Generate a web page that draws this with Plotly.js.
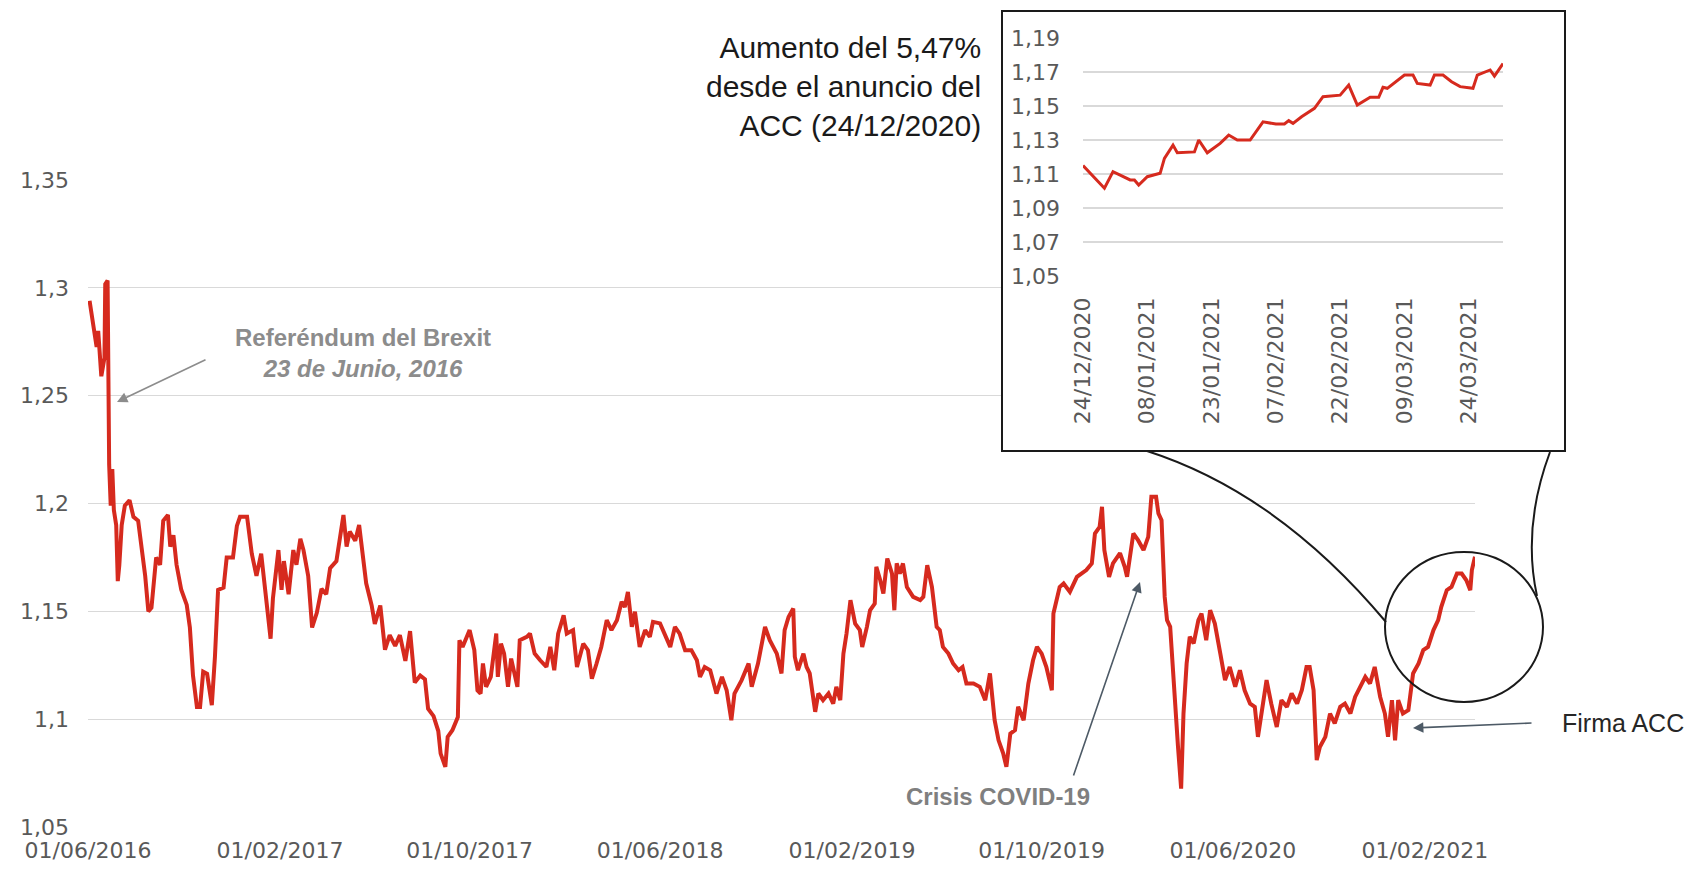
<!DOCTYPE html>
<html>
<head>
<meta charset="utf-8">
<script src="https://cdn.plot.ly/plotly-3.0.1.min.js"></script>
<style>html,body{margin:0;padding:0;background:#fff;}#chart{width:1686px;height:870px;}</style>
</head>
<body>
<div id="chart"></div>
<script>
// Main series: GBP/EUR, 01/06/2016 - 06/04/2021
const mainDates = [
"2016-06-03","2016-06-07","2016-06-12","2016-06-14","2016-06-18","2016-06-22","2016-06-23","2016-06-26","2016-06-27","2016-06-28",
"2016-06-30","2016-07-02","2016-07-04","2016-07-07","2016-07-09","2016-07-11","2016-07-14","2016-07-18","2016-07-24","2016-07-29",
"2016-08-04","2016-08-08","2016-08-13","2016-08-17","2016-08-21","2016-08-27","2016-09-01","2016-09-05","2016-09-11","2016-09-14",
"2016-09-18","2016-09-22","2016-09-28","2016-10-05","2016-10-09","2016-10-13","2016-10-18","2016-10-22","2016-10-26","2016-10-31",
"2016-11-06","2016-11-10","2016-11-14","2016-11-21","2016-11-25","2016-12-03","2016-12-08","2016-12-12","2016-12-21","2016-12-27",
"2017-01-02","2017-01-08","2017-01-15","2017-01-20","2017-01-23","2017-01-30","2017-02-03","2017-02-06","2017-02-12","2017-02-18",
"2017-02-22","2017-02-27","2017-03-03","2017-03-09","2017-03-14","2017-03-20","2017-03-26","2017-04-01","2017-04-06","2017-04-14",
"2017-04-23","2017-04-27","2017-05-01","2017-05-08","2017-05-13","2017-05-18","2017-05-22","2017-05-29","2017-06-02","2017-06-09",
"2017-06-15","2017-06-21","2017-06-28","2017-07-04","2017-07-11","2017-07-17","2017-07-23","2017-07-30","2017-08-05","2017-08-09",
"2017-08-16","2017-08-22","2017-08-25","2017-08-31","2017-09-03","2017-09-09","2017-09-16","2017-09-18","2017-09-22","2017-10-01",
"2017-10-07","2017-10-11","2017-10-15","2017-10-18","2017-10-22","2017-10-28","2017-11-04","2017-11-06","2017-11-10","2017-11-14",
"2017-11-19","2017-11-23","2017-12-01","2017-12-04","2017-12-13","2017-12-17","2017-12-23","2017-12-30","2018-01-07","2018-01-12",
"2018-01-17","2018-01-22","2018-01-29","2018-02-02","2018-02-10","2018-02-15","2018-02-23","2018-03-01","2018-03-06","2018-03-12",
"2018-03-18","2018-03-25","2018-03-31","2018-04-07","2018-04-13","2018-04-17","2018-04-21","2018-04-26","2018-04-30","2018-05-06",
"2018-05-13","2018-05-19","2018-05-23","2018-06-01","2018-06-05","2018-06-14","2018-06-20","2018-06-26","2018-07-03","2018-07-11",
"2018-07-18","2018-07-22","2018-07-28","2018-08-04","2018-08-12","2018-08-19","2018-08-25","2018-08-31","2018-09-04","2018-09-13",
"2018-09-22","2018-09-26","2018-10-04","2018-10-13","2018-10-19","2018-10-28","2018-11-03","2018-11-07","2018-11-12","2018-11-18",
"2018-11-20","2018-11-24","2018-12-01","2018-12-05","2018-12-09","2018-12-13","2018-12-16","2018-12-20","2018-12-26","2019-01-02",
"2019-01-08","2019-01-12","2019-01-17","2019-01-21","2019-01-25","2019-01-30","2019-02-05","2019-02-11","2019-02-14","2019-02-20",
"2019-02-24","2019-03-02","2019-03-04","2019-03-09","2019-03-13","2019-03-18","2019-03-24","2019-03-27","2019-03-30","2019-04-03",
"2019-04-07","2019-04-12","2019-04-20","2019-04-29","2019-05-03","2019-05-08","2019-05-14","2019-05-20","2019-05-24","2019-05-28",
"2019-06-04","2019-06-10","2019-06-17","2019-06-22","2019-06-27","2019-07-06","2019-07-14","2019-07-21","2019-07-27","2019-08-02",
"2019-08-07","2019-08-13","2019-08-17","2019-08-22","2019-08-28","2019-09-01","2019-09-08","2019-09-14","2019-09-20","2019-09-25",
"2019-10-01","2019-10-07","2019-10-14","2019-10-16","2019-10-20","2019-10-24","2019-10-29","2019-11-06","2019-11-15","2019-11-21",
"2019-11-27","2019-12-04","2019-12-08","2019-12-14","2019-12-17","2019-12-20","2019-12-26","2019-12-31","2020-01-09","2020-01-15",
"2020-01-18","2020-01-26","2020-02-01","2020-02-08","2020-02-14","2020-02-18","2020-02-24","2020-02-27","2020-03-02","2020-03-06",
"2020-03-09","2020-03-13","2020-03-17","2020-03-21","2020-03-23","2020-03-27","2020-03-30","2020-04-03","2020-04-07","2020-04-12",
"2020-04-18","2020-04-22","2020-04-28","2020-05-03","2020-05-09","2020-05-16","2020-05-22","2020-05-28","2020-06-04","2020-06-10",
"2020-06-16","2020-06-23","2020-06-29","2020-07-03","2020-07-08","2020-07-14","2020-07-20","2020-07-27","2020-08-02","2020-08-09",
"2020-08-15","2020-08-22","2020-08-28","2020-09-03","2020-09-07","2020-09-12","2020-09-16","2020-09-20","2020-09-27","2020-10-03",
"2020-10-09","2020-10-16","2020-10-22","2020-10-29","2020-11-04","2020-11-10","2020-11-17","2020-11-23","2020-11-29","2020-12-06",
"2020-12-12","2020-12-16","2020-12-21","2020-12-25","2020-12-29","2021-01-04","2021-01-11","2021-01-17","2021-01-24","2021-01-30",
"2021-02-05","2021-02-12","2021-02-18","2021-02-22","2021-03-01","2021-03-07","2021-03-14","2021-03-20","2021-03-26","2021-03-31",
"2021-04-02","2021-04-06"
];
const mainValues = [
1.294,1.283,1.2726,1.280,1.259,1.2675,1.3017,1.3034,1.2487,1.218,
1.199,1.216,1.197,1.190,1.164,1.1716,1.190,1.199,1.2015,1.1938,
1.192,1.180,1.1664,1.150,1.1517,1.175,1.1716,1.192,1.1947,1.180,
1.1853,1.1716,1.160,1.153,1.1425,1.1202,1.1056,1.1056,1.122,1.121,
1.1065,1.129,1.160,1.161,1.175,1.175,1.1896,1.1938,1.1938,1.1767,
1.1664,1.1767,1.151,1.1373,1.156,1.1784,1.160,1.1733,1.1579,1.1784,
1.1716,1.1836,1.1784,1.1664,1.1425,1.1493,1.1604,1.1579,1.170,1.1733,
1.1947,1.180,1.187,1.1827,1.190,1.175,1.163,1.1527,1.1442,1.1527,
1.1322,1.139,1.134,1.139,1.127,1.1408,1.117,1.1202,1.1185,1.1048,
1.1014,1.0945,1.084,1.0779,1.0918,1.0949,1.101,1.1366,1.1335,1.1413,
1.132,1.1134,1.1119,1.1258,1.115,1.1196,1.1397,1.1196,1.135,1.1304,
1.115,1.1281,1.115,1.1366,1.1382,1.1397,1.1304,1.1273,1.1242,1.1335,
1.1227,1.1397,1.1482,1.1397,1.1413,1.1242,1.135,1.132,1.1188,1.1258,
1.1335,1.1459,1.1413,1.1459,1.1544,1.152,1.159,1.1428,1.1498,1.1335,
1.1413,1.1382,1.1451,1.1444,1.1413,1.1335,1.1428,1.1397,1.132,1.132,
1.1273,1.1196,1.1242,1.1227,1.1119,1.1196,1.1134,1.0995,1.1119,1.118,
1.1258,1.115,1.1258,1.1428,1.1366,1.1304,1.1212,1.1413,1.1474,1.1513,
1.1289,1.1227,1.1304,1.1242,1.1212,1.1119,1.1034,1.1119,1.1088,1.1119,
1.1072,1.115,1.1088,1.1304,1.1397,1.1552,1.1443,1.1413,1.1335,1.1428,
1.1505,1.1536,1.1706,1.1644,1.1583,1.1745,1.1675,1.1505,1.1722,1.1675,
1.1722,1.1613,1.1567,1.1552,1.1567,1.1714,1.1613,1.1428,1.1413,1.1335,
1.1304,1.1258,1.1227,1.1242,1.1165,1.1165,1.115,1.1088,1.1212,1.0995,
1.0902,1.084,1.0779,1.0933,1.0949,1.1057,1.0995,1.1165,1.1273,1.1335,
1.1304,1.1242,1.1134,1.149,1.1552,1.1613,1.1629,1.159,1.166,1.1675,
1.1691,1.1722,1.1861,1.1892,1.1985,1.1784,1.166,1.1722,1.177,1.1706,
1.166,1.1861,1.183,1.1784,1.1845,1.2031,1.2031,1.1954,1.1923,1.1567,
1.1459,1.1428,1.1181,1.0933,1.0871,1.0678,1.1026,1.1258,1.1382,1.1351,
1.1459,1.149,1.1366,1.1505,1.1443,1.1304,1.1181,1.1242,1.115,1.1227,
1.1134,1.1072,1.1057,1.0918,1.1026,1.1181,1.1072,1.0964,1.1088,1.1057,
1.1119,1.1072,1.1134,1.1242,1.1242,1.1134,1.081,1.0871,1.0918,1.1026,
1.098,1.1057,1.1072,1.1026,1.1103,1.115,1.1196,1.1165,1.1242,1.1103,
1.1026,1.0918,1.1088,1.0902,1.1088,1.1026,1.1042,1.1212,1.1258,1.132,
1.1335,1.1413,1.1459,1.1521,1.1598,1.1613,1.1675,1.1675,1.1644,1.1598,
1.1691,1.1753
];

// Inset series: since the ACC announcement (24/12/2020)
const insetDates = [
"2020-12-24","2020-12-29","2020-12-31","2021-01-04","2021-01-05","2021-01-06","2021-01-08","2021-01-11","2021-01-12","2021-01-14",
"2021-01-15","2021-01-19","2021-01-20","2021-01-22","2021-01-25","2021-01-27","2021-01-29","2021-02-01","2021-02-04","2021-02-07",
"2021-02-09","2021-02-10","2021-02-11","2021-02-13","2021-02-16","2021-02-18","2021-02-22","2021-02-24","2021-02-26","2021-03-01",
"2021-03-03","2021-03-04","2021-03-05","2021-03-09","2021-03-11","2021-03-12","2021-03-15","2021-03-16","2021-03-18","2021-03-20",
"2021-03-22","2021-03-25","2021-03-26","2021-03-29","2021-03-30","2021-03-31","2021-04-01"
];
const insetValues = [
1.115,1.1016,1.1114,1.1065,1.1065,1.1035,1.1084,1.1104,1.1192,1.127,
1.1225,1.123,1.130,1.1225,1.128,1.1329,1.130,1.130,1.1407,1.1394,
1.1394,1.1414,1.1398,1.1437,1.1486,1.1555,1.1564,1.1623,1.1506,1.1551,
1.1551,1.161,1.1604,1.1682,1.1682,1.1633,1.1623,1.1682,1.1682,1.1643,
1.1614,1.1604,1.1682,1.1712,1.1676,1.1712,1.175
];

const RED = '#d62a1e';
const GRID = '#d9d9d9';
const TICKCOL = '#595959';
const tickFont = {family: 'DejaVu Sans', size: 22, color: TICKCOL};

// pixel -> paper helpers (figure 1686 x 870, zero margins)
const W = 1686, H = 870;
const px = x => x / W;
const py = y => (H - y) / H;

const traces = [
  {type: 'scatter', mode: 'lines', x: mainDates, y: mainValues, xaxis: 'x', yaxis: 'y',
   line: {color: RED, width: 4}, hoverinfo: 'x+y'},
  {type: 'scatter', mode: 'lines', x: [], y: [], xaxis: 'x2', yaxis: 'y2', hoverinfo: 'skip'},
  {type: 'scatter', mode: 'lines', x: insetDates, y: insetValues, xaxis: 'x3', yaxis: 'y3',
   line: {color: RED, width: 3}, hoverinfo: 'x+y'}
];

const boxAxis = {showgrid: false, zeroline: false, showticklabels: false, ticks: '',
  showline: true, mirror: true, linecolor: '#1a1a1a', linewidth: 2, range: [0, 1], fixedrange: true, automargin: false};

const layout = {
  width: W, height: H, autosize: false,
  margin: {l: 0, r: 0, t: 0, b: 0, pad: 0},
  paper_bgcolor: '#ffffff', plot_bgcolor: '#ffffff',
  separators: ',.',
  showlegend: false,
  xaxis: {domain: [px(88), px(1475)], anchor: 'y', type: 'date',
    range: ['2016-06-01', '2021-04-06'], tick0: '2016-06-01', dtick: 'M8', tickformat: '%d/%m/%Y',
    showgrid: false, zeroline: false, showline: false, ticks: '', tickfont: tickFont,
    ticklabelstandoff: 8, automargin: false},
  yaxis: {domain: [py(827), py(180)], anchor: 'x', range: [1.05, 1.35], tick0: 1.05, dtick: 0.05,
    showgrid: true, gridcolor: GRID, gridwidth: 1.3, zeroline: false, showline: false, ticks: '',
    tickfont: tickFont, ticklabelstandoff: 18, automargin: false},
  xaxis2: Object.assign({domain: [px(1003), px(1564)], anchor: 'y2'}, boxAxis),
  yaxis2: Object.assign({domain: [py(450), py(12)], anchor: 'x2'}, boxAxis),
  xaxis3: {domain: [px(1083), px(1503)], anchor: 'y3', type: 'date',
    range: ['2020-12-24', '2021-04-01'], tick0: '2020-12-24', dtick: 15 * 86400000, tickformat: '%d/%m/%Y',
    tickangle: -90, showgrid: false, zeroline: false, showline: false, ticks: '', tickfont: tickFont,
    ticklabelstandoff: 16, automargin: false},
  yaxis3: {domain: [py(276), py(38)], anchor: 'x3', range: [1.05, 1.19], tick0: 1.05, dtick: 0.02,
    showgrid: true, gridcolor: GRID, gridwidth: 1.3, zeroline: false, showline: false, ticks: '',
    tickfont: tickFont, ticklabelstandoff: 22, automargin: false},
  shapes: [
    {type: 'circle', xref: 'paper', yref: 'paper', x0: px(1385), x1: px(1543), y0: py(702), y1: py(552),
     line: {color: '#1a1a1a', width: 2}, fillcolor: 'rgba(0,0,0,0)', layer: 'above'},
    {type: 'path', xref: 'paper', yref: 'paper', layer: 'above',
     path: 'M ' + px(1147) + ' ' + py(451) + ' Q ' + px(1278) + ' ' + py(493) + ' ' + px(1386) + ' ' + py(622),
     line: {color: '#1a1a1a', width: 2}},
    {type: 'path', xref: 'paper', yref: 'paper', layer: 'above',
     path: 'M ' + px(1550) + ' ' + py(452) + ' Q ' + px(1522) + ' ' + py(527) + ' ' + px(1537) + ' ' + py(596),
     line: {color: '#1a1a1a', width: 2}}
  ],
  annotations: [
    {xref: 'paper', yref: 'paper', x: px(983), y: py(86), xanchor: 'right', yanchor: 'middle', align: 'right',
     showarrow: false, text: 'Aumento del 5,47%<br>desde el anuncio del<br>ACC (24/12/2020)',
     font: {family: 'Liberation Sans, Arial', size: 30, color: '#1a1a1a'}},
    {xref: 'paper', yref: 'paper', x: px(363), y: py(353), xanchor: 'center', yanchor: 'middle', align: 'center',
     showarrow: false, text: '<b>Referéndum del Brexit</b><br><b><i>23 de Junio, 2016</i></b>',
     font: {family: 'Liberation Sans, Arial', size: 24, color: '#8c8c8c'}},
    {xref: 'paper', yref: 'paper', x: px(117), y: py(402), axref: 'pixel', ayref: 'pixel', ax: 90, ay: -43,
     text: '', showarrow: true, arrowhead: 2, arrowsize: 1.3, arrowwidth: 1.6, arrowcolor: '#8c8c8c'},
    {xref: 'paper', yref: 'paper', x: px(998), y: py(796), xanchor: 'center', yanchor: 'middle',
     showarrow: false, text: '<b>Crisis COVID-19</b>',
     font: {family: 'Liberation Sans, Arial', size: 24, color: '#7f7f7f'}},
    {xref: 'paper', yref: 'paper', x: px(1140), y: py(582), axref: 'pixel', ayref: 'pixel', ax: -67, ay: 195,
     text: '', showarrow: true, arrowhead: 2, arrowsize: 1.3, arrowwidth: 1.6, arrowcolor: '#4d5a66'},
    {xref: 'paper', yref: 'paper', x: px(1560), y: py(723), xanchor: 'left', yanchor: 'middle',
     showarrow: false, text: 'Firma ACC',
     font: {family: 'Liberation Sans, Arial', size: 25, color: '#262626'}},
    {xref: 'paper', yref: 'paper', x: px(1413), y: py(728), axref: 'pixel', ayref: 'pixel', ax: 120, ay: -5,
     text: '', showarrow: true, arrowhead: 2, arrowsize: 1.3, arrowwidth: 1.6, arrowcolor: '#4d5a66'}
  ]
};

Plotly.newPlot('chart', traces, layout, {staticPlot: true, displayModeBar: false});
</script>
</body>
</html>
